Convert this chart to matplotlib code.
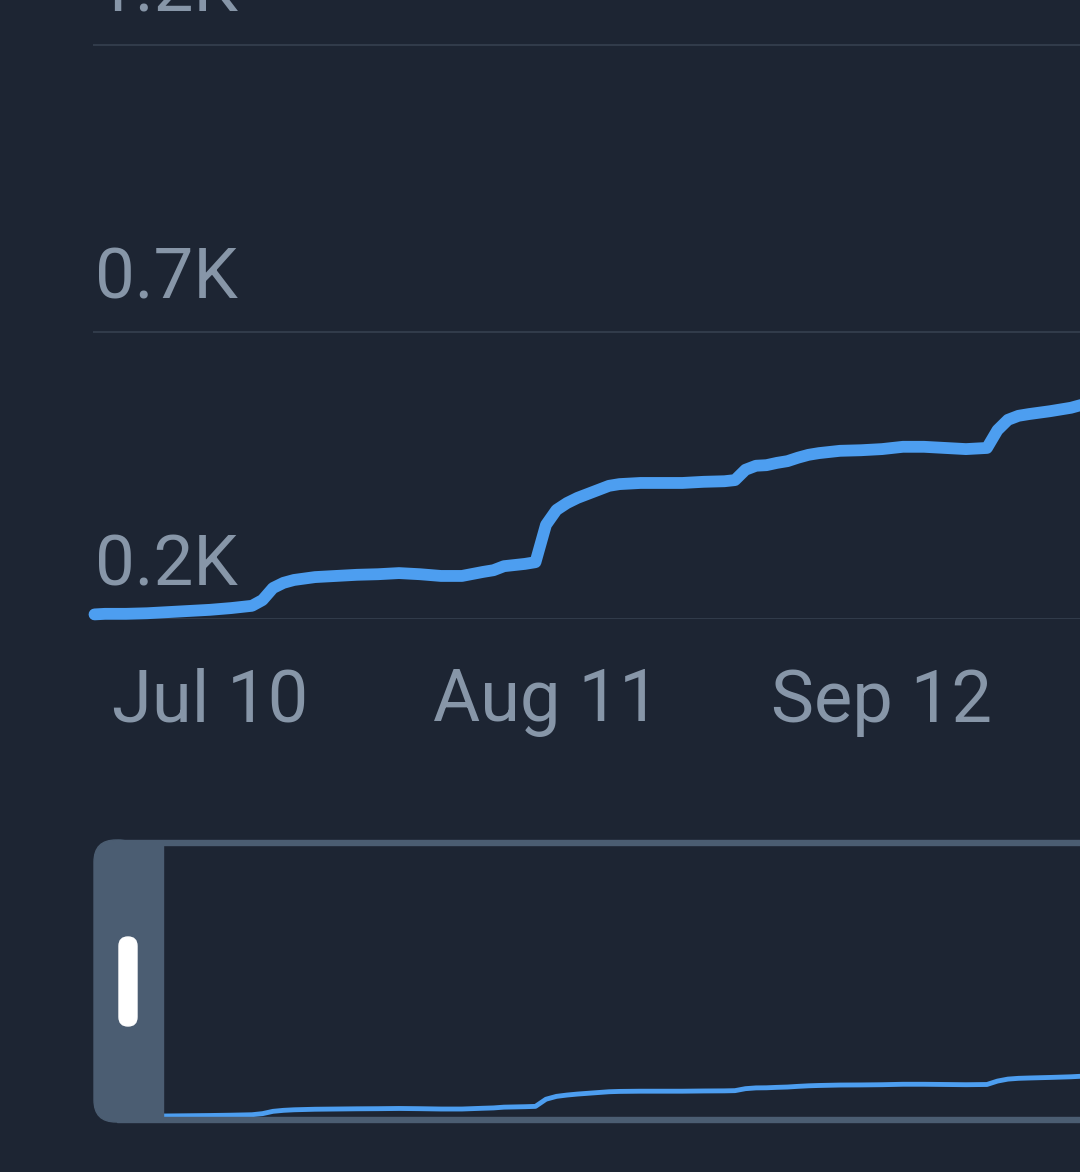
import pandas as pd
import matplotlib.pyplot as plt
import matplotlib.dates as mdates
from matplotlib.patches import FancyBboxPatch, Rectangle

# Datos (valores acumulados)
fechas = ['2023-06-29', '2023-06-30', '2023-07-02', '2023-07-04', '2023-07-06',
          '2023-07-08', '2023-07-10', '2023-07-12', '2023-07-14', '2023-07-15',
          '2023-07-16', '2023-07-17', '2023-07-18', '2023-07-20', '2023-07-22',
          '2023-07-24', '2023-07-26', '2023-07-28', '2023-07-30', '2023-08-01',
          '2023-08-03', '2023-08-05', '2023-08-06', '2023-08-07', '2023-08-08',
          '2023-08-09', '2023-08-10', '2023-08-11', '2023-08-12', '2023-08-13',
          '2023-08-14', '2023-08-15', '2023-08-16', '2023-08-17', '2023-08-18',
          '2023-08-20', '2023-08-22', '2023-08-24', '2023-08-26', '2023-08-28',
          '2023-08-29', '2023-08-30', '2023-08-31', '2023-09-01', '2023-09-02',
          '2023-09-03', '2023-09-04', '2023-09-05', '2023-09-06', '2023-09-08',
          '2023-09-10', '2023-09-12', '2023-09-14', '2023-09-16', '2023-09-18',
          '2023-09-20', '2023-09-22', '2023-09-23', '2023-09-24', '2023-09-25',
          '2023-09-26', '2023-09-28', '2023-09-30', '2023-10-01']
valores = [208, 209, 209, 210, 212, 214, 216, 219, 223, 233,
           254, 263, 268, 273, 275, 277, 278, 280, 278, 275,
           275, 282, 285, 292, 294, 296, 299, 364, 390, 402,
           411, 418, 425, 432, 435, 437, 437, 437, 439, 440,
           442, 460, 467, 468, 472, 475, 481, 486, 489, 493,
           494, 496, 500, 500, 498, 496, 498, 529, 547, 554,
           557, 562, 568, 573]

ticks_y = [200, 700, 1200]
etiquetas_y = ['0.2K', '0.7K', '1.2K']
ticks_x = ['2023-07-10', '2023-08-11', '2023-09-12']
etiquetas_x = ['Jul 10', 'Aug 11', 'Sep 12']

df = pd.DataFrame({'fecha': pd.to_datetime(fechas), 'valor': valores})

fondo = '#1d2533'
azul = '#4d9ef0'
gris_texto = '#8796a8'
gris_grid = '#313b4a'
gris_mando = '#4b5d72'

plt.rcParams['font.family'] = ['Roboto', 'DejaVu Sans']

W, H = 1080, 1172
fig = plt.figure(figsize=(W / 100, H / 100), dpi=100, facecolor=fondo)

x_ini = mdates.date2num(pd.Timestamp('2023-06-20'))
x_fin = mdates.date2num(pd.Timestamp('2023-09-30 20:40'))
dias_px = (x_fin - x_ini) / W

# Grafico principal
ax = fig.add_axes([0, 1 - 619 / H, 1, 619 / H])
ax.set_facecolor(fondo)
ax.set_xlim(x_ini, x_fin)
ax.set_ylim(200, 200 + 619 * 500 / 287)
for v, et in zip(ticks_y, etiquetas_y):
    ax.axhline(v, xmin=94 / W, color=gris_grid, lw=1.5, zorder=1)
    ax.annotate(et, xy=(95 / W, v), xycoords=('axes fraction', 'data'),
                xytext=(0, 24), textcoords='offset points',
                color=gris_texto, fontsize=51, va='baseline', ha='left',
                annotation_clip=False)
ax.plot(df['fecha'], df['valor'], color=azul, lw=8.5, solid_capstyle='round',
        solid_joinstyle='round', zorder=3, clip_on=False)
ax.set_xticks(pd.to_datetime(ticks_x))
ax.set_xticklabels(etiquetas_x)
ax.tick_params(axis='x', length=0, pad=35, labelsize=52, labelcolor=gris_texto)
ax.set_yticks([])
for s in ax.spines.values():
    s.set_visible(False)

# Navegador inferior (empieza detras del mando izquierdo)
ax2 = fig.add_axes([163 / W, 1 - 1117 / H, 1 - 163 / W, (1117 - 845) / H])
ax2.set_facecolor('none')
ax2.set_xlim(x_ini + 163 * dias_px, x_fin)
ax2.set_ylim(207 - 0.5 / 0.11, 207 + (1116.5 - 845) / 0.11)
ax2.plot(df['fecha'], df['valor'], color=azul, lw=3.5, zorder=2)
ax2.axis('off')

# marco de seleccion
fig.patches.append(Rectangle((163, H - 845), W, 5, transform=None,
                             color=gris_mando, zorder=5))
fig.patches.append(Rectangle((163, H - 1122), W, 5, transform=None,
                             color=gris_mando, zorder=5))
fig.patches.append(FancyBboxPatch((94, H - 1122), 46, 282,
                                  boxstyle='round,pad=0,rounding_size=22',
                                  transform=None, color=gris_mando, zorder=5))
fig.patches.append(Rectangle((117, H - 1122), 46, 282, transform=None,
                             color=gris_mando, zorder=5))
fig.patches.append(FancyBboxPatch((119, H - 1026), 18, 89,
                                  boxstyle='round,pad=0,rounding_size=9',
                                  transform=None, color='white', zorder=7))

fig.savefig('out.png', dpi=100, facecolor=fondo)
